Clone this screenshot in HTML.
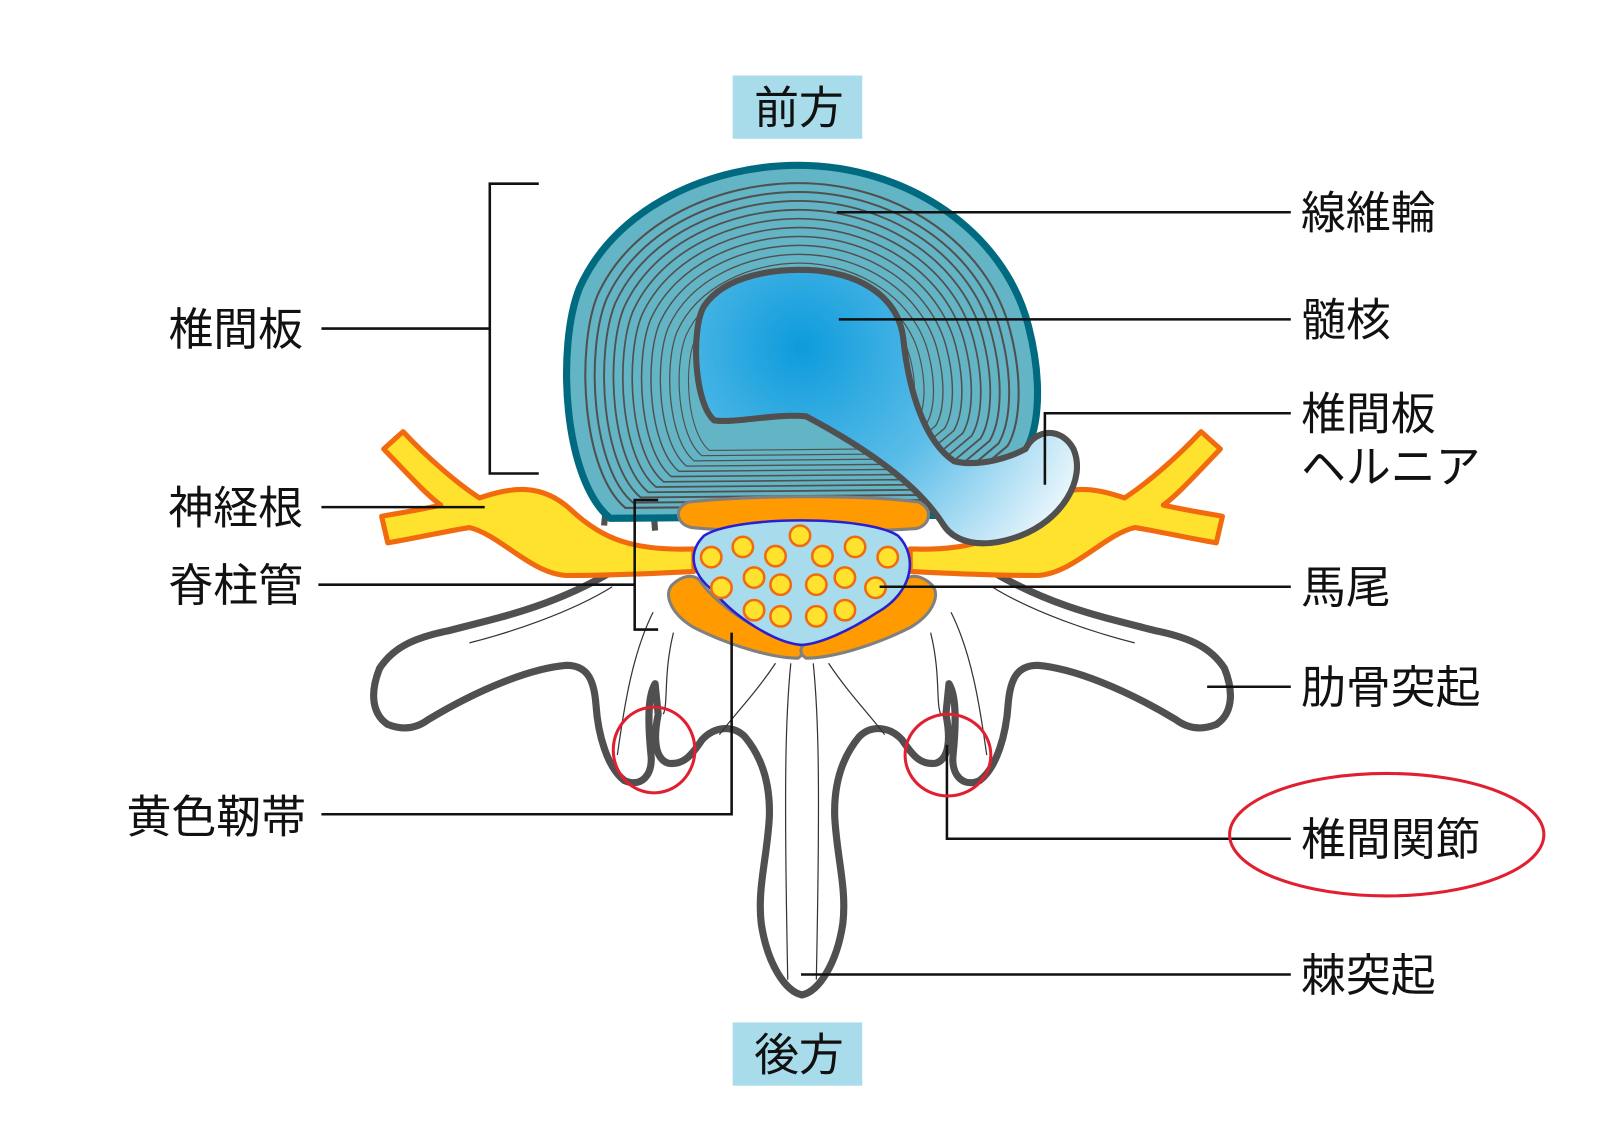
<!DOCTYPE html>
<html><head><meta charset="utf-8"><style>
html,body{margin:0;padding:0;background:#fff}
svg{display:block}
text{font-family:"Liberation Sans","Noto Sans CJK JP",sans-serif;font-size:44px;fill:#111}
</style></head><body>
<svg width="1600" height="1131" viewBox="0 0 1600 1131" xmlns="http://www.w3.org/2000/svg">
<defs>
<radialGradient id="nuc" cx="785" cy="340" r="300" gradientUnits="userSpaceOnUse">
<stop offset="0" stop-color="#0d9bdc"/><stop offset="0.5" stop-color="#5cbde8"/><stop offset="1" stop-color="#eaf6fc"/>
</radialGradient>
<path id="dp" d="M598,508 C552,470 545,340 568,282 C605,200 700,162 782,162 C890,162 985,228 1008,320 C1022,375 1018,420 1005,442 L930,505 Z"/>
<g id="half">
<path d="M786,975 C770,972 752,945 746,905 C742,870 752,840 754,800 C755,765 745,740 730,722 C718,710 700,712 688,725 C678,740 670,750 655,748 C642,744 640,725 645,700 L642,670 C636,680 634,700 638,740 C640,760 628,772 612,765 C595,752 586,720 584,690 C582,665 575,652 555,652 C520,655 470,675 420,705 C408,714 395,716 380,710 C365,700 362,680 372,655 C385,635 405,625 440,618 C490,605 540,595 600,560 L660,555 L700,620 L786,640 Z" fill="#fff" stroke="none"/>
<path d="M786,975 C770,972 752,945 746,905 C742,870 752,840 754,800 C755,765 745,740 730,722 C718,710 700,712 688,725 C678,740 670,750 655,748 C642,744 640,725 645,700 L642,670 C636,680 634,700 638,740 C640,760 628,772 612,765 C595,752 586,720 584,690 C582,665 575,652 555,652 C520,655 470,675 420,705 C408,714 395,716 380,710 C365,700 362,680 372,655 C385,635 405,625 440,618 C490,605 540,595 600,560" fill="none" stroke="#505050" stroke-width="7" stroke-linejoin="round" stroke-linecap="round"/>
<path d="M775,650 C770,700 768,760 772,960 M760,650 C740,680 720,700 705,720 M640,600 C620,640 612,690 605,740 M660,620 C650,660 655,690 650,700 M600,575 C560,600 500,620 460,630" fill="none" stroke="#333" stroke-width="1.2"/>
<path d="M594,495 L592,515 M640,495 L642,520" stroke="#505050" stroke-width="6"/>
<path d="M680,538 C620,540 590,528 560,500 C530,472 500,478 470,488 C450,475 420,450 395,423 L376,440 C400,465 418,485 432,495 C410,500 390,503 374,506 L380,532 C410,527 440,520 460,517 C490,524 520,562 555,564 C600,564 640,562 680,560 Z" fill="#ffe22e" stroke="#f26a0e" stroke-width="5" stroke-linejoin="round"/>
<path d="M660,572 C650,580 655,600 680,615 C720,635 760,645 782,645 C790,640 788,632 780,630 C740,620 700,590 685,568 C678,562 668,565 660,572 Z" fill="#ff9a00" stroke="#808080" stroke-width="3"/>
</g>
</defs>
<rect width="1600" height="1131" fill="#fff"/>
<g transform="scale(1.0204)">
<rect x="718" y="74" width="127" height="62" fill="#a8dcea"/>
<text x="739" y="121">前方</text>
<rect x="718" y="1002" width="127" height="62" fill="#a8dcea"/>
<text x="739" y="1049">後方</text>

<use href="#half"/>
<use href="#half" transform="translate(1572,0) scale(-1,1)"/>

<use href="#dp" fill="#63b4c4" stroke="#006b80" stroke-width="7" stroke-linejoin="round"/>
<g fill="none" stroke="#505050" stroke-width="2.2" vector-effect="non-scaling-stroke">
<use href="#dp" transform="translate(785,380) scale(0.92) translate(-785,-380)"/>
<use href="#dp" transform="translate(785,380) scale(0.88) translate(-785,-380)"/>
<use href="#dp" transform="translate(785,380) scale(0.84) translate(-785,-380)"/>
<use href="#dp" transform="translate(785,380) scale(0.80) translate(-785,-380)"/>
<use href="#dp" transform="translate(785,380) scale(0.76) translate(-785,-380)"/>
<use href="#dp" transform="translate(785,380) scale(0.72) translate(-785,-380)"/>
<use href="#dp" transform="translate(785,380) scale(0.68) translate(-785,-380)"/>
<use href="#dp" transform="translate(785,380) scale(0.64) translate(-785,-380)"/>
<use href="#dp" transform="translate(785,380) scale(0.60) translate(-785,-380)"/>
<use href="#dp" transform="translate(785,380) scale(0.56) translate(-785,-380)"/>
<use href="#dp" transform="translate(785,380) scale(0.52) translate(-785,-380)"/>
<use href="#dp" transform="translate(785,380) scale(0.48) translate(-785,-380)"/>
</g>
<path d="M700,412 C680,395 677,322 690,300 C710,270 760,262 800,265 C850,270 880,295 885,330 C890,380 905,432 935,452 C960,458 990,448 1005,440 C1015,420 1040,418 1052,440 C1065,470 1040,510 1000,525 C960,540 935,530 925,515 C900,475 850,440 790,408 C760,405 720,415 700,412 Z" fill="url(#nuc)" stroke="#505050" stroke-width="6" stroke-linejoin="round"/>

<path d="M675,492 C740,485 850,485 900,492 C915,498 912,515 898,518 C840,522 730,522 678,517 C662,514 660,497 675,492 Z" fill="#ff9a00" stroke="#808080" stroke-width="3"/>
<path d="M690,525 C720,505 850,505 880,525 C900,545 895,580 860,600 C830,620 800,632 785,632 C760,630 720,605 700,580 C675,560 675,540 690,525 Z" fill="#a8dcec" stroke="#2a1fd0" stroke-width="2.5"/>
<g fill="#ffe22e" stroke="#f26a0e" stroke-width="2.5">
<circle cx="697" cy="546" r="10"/><circle cx="728" cy="536" r="10"/><circle cx="760" cy="545" r="10"/><circle cx="784" cy="525" r="10"/><circle cx="806" cy="545" r="10"/><circle cx="838" cy="536" r="10"/><circle cx="870" cy="546" r="10"/>
<circle cx="707" cy="576" r="10"/><circle cx="739" cy="566" r="10"/><circle cx="765" cy="573" r="10"/><circle cx="800" cy="573" r="10"/><circle cx="828" cy="566" r="10"/><circle cx="858" cy="576" r="10"/>
<circle cx="739" cy="598" r="10"/><circle cx="765" cy="604" r="10"/><circle cx="800" cy="604" r="10"/><circle cx="828" cy="598" r="10"/>
</g>

<g fill="none" stroke="#111" stroke-width="2.5">
<path d="M820,208 H1265"/><path d="M822,313 H1265"/>
<path d="M1024,475 V405 H1265"/><path d="M862,575 H1265"/>
<path d="M1183,673 H1265"/><path d="M928,730 V822 H1265"/>
<path d="M785,955 H1265"/>
<path d="M315,322 H480"/><path d="M528,180 H480 V464 H528"/>
<path d="M315,497 H475"/>
<path d="M312,573 H622"/><path d="M645,490 H622 V617 H645"/>
<path d="M315,798 H717 V620"/>
</g>
<g fill="none" stroke="#e02030" stroke-width="3">
<ellipse cx="641" cy="735" rx="40" ry="42"/>
<ellipse cx="929" cy="740" rx="42" ry="40"/>
<ellipse cx="1359" cy="818" rx="154" ry="60"/>
</g>
<text x="1275" y="224">線維輪</text>
<text x="1275" y="329">髄核</text>
<text x="1275" y="421">椎間板</text>
<text x="1275" y="473">ヘルニア</text>
<text x="1275" y="591">馬尾</text>
<text x="1275" y="689">肋骨突起</text>
<text x="1275" y="838">椎間関節</text>
<text x="1275" y="971">棘突起</text>
<text x="165" y="338">椎間板</text>
<text x="165" y="513">神経根</text>
<text x="165" y="589">脊柱管</text>
<text x="124" y="816">黄色靭帯</text>
</g>
</svg>
</body></html>
